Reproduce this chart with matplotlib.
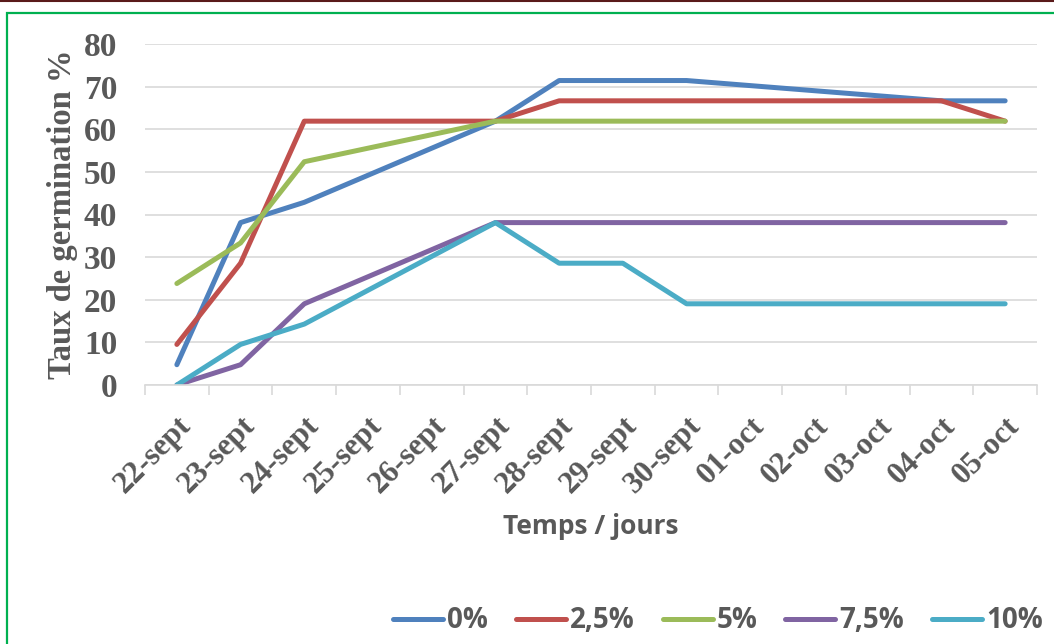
import numpy as np
import matplotlib.pyplot as plt
from matplotlib.patches import Rectangle
from matplotlib.lines import Line2D

dates = ['22-sept', '23-sept', '24-sept', '25-sept', '26-sept', '27-sept', '28-sept',
         '29-sept', '30-sept', '01-oct', '02-oct', '03-oct', '04-oct', '05-oct']
# relevés non faits -> None
s0 = [4.76, 38.10, 42.86, None, None, 61.90, 71.43, 71.43, 71.43, None, None, None, 66.67, 66.67]
s25 = [9.52, 28.57, 61.90, None, None, 61.90, 66.67, 66.67, 66.67, None, None, None, 66.67, 61.90]
s5 = [23.81, 33.33, 52.38, None, None, 61.90, 61.90, 61.90, 61.90, None, None, None, 61.90, 61.90]
s75 = [0.0, 4.76, 19.05, None, None, 38.10, 38.10, 38.10, 38.10, None, None, None, 38.10, 38.10]
s10 = [0.0, 9.52, 14.29, None, None, 38.10, 28.57, 28.57, 19.05, None, None, None, 19.05, 19.05]
labels = ['0%', '2,5%', '5%', '7,5%', '10%']
colors = ['#4F81BD', '#C0504D', '#9BBB59', '#8064A2', '#4BACC6']

grey = '#595959'
fig = plt.figure(figsize=(10.54, 6.44), dpi=100)
ax = fig.add_axes([145/1054, 1-385/644, 892/1054, 341/644])

x = np.arange(len(dates))
for vals, lab, c in zip([s0, s25, s5, s75, s10], labels, colors):
    y = np.array([np.nan if v is None else v for v in vals])
    ok = ~np.isnan(y)
    ax.plot(x[ok], y[ok], color=c, lw=3.6, solid_capstyle='round',
            solid_joinstyle='round', label=lab)

ax.set_xlim(-0.5, len(dates) - 0.5)
ax.set_ylim(0, 80)
ax.set_yticks(range(0, 81, 10))
ax.set_xticks(x)
ax.set_xticks(np.arange(-0.5, len(dates)), minor=True)
ax.set_xticklabels(dates, rotation=45, ha='right', rotation_mode='anchor',
                   family='Liberation Serif', weight='bold', fontsize=22.5, color=grey)
for t in ax.get_yticklabels():
    t.set_family('Liberation Serif')
    t.set_weight('bold')
    t.set_fontsize(24)
    t.set_color(grey)
ax.tick_params(axis='x', which='major', length=0, pad=19)
ax.tick_params(axis='x', which='minor', length=7, width=1.2, color='#D9D9D9')
ax.tick_params(axis='y', length=0, pad=20)
ax.grid(axis='y', color='#D9D9D9', lw=1.2)
ax.set_axisbelow(True)
for side in ['left', 'right', 'top']:
    ax.spines[side].set_visible(False)
ax.spines['bottom'].set_color('#D9D9D9')
ax.spines['bottom'].set_linewidth(1.2)

ax.set_ylabel('Taux de germination %', family='Liberation Serif', weight='bold',
              fontsize=23.5, color=grey, labelpad=4)
fig.text(591/1054, 1-527/644, 'Temps / jours', family='Open Sans', weight='bold',
         fontsize=19, color=grey, ha='center', va='center')

handles = [Line2D([], [], color=c, lw=3.6, solid_capstyle='round') for c in colors]
fig.legend(handles, labels, loc='center right', bbox_to_anchor=(1068/1054, 1-621/644),
           ncol=5, frameon=False, handlelength=1.8, handletextpad=0.15,
           columnspacing=1.0, prop={'family': 'Open Sans', 'weight': 'bold', 'size': 20},
           labelcolor=grey)

# cadre
fig.patches.append(Rectangle((7/1054, -0.02), 1.05, 1-13/644+0.02, transform=fig.transFigure,
                             fill=False, ec='#00B050', lw=1.6))
fig.lines.append(Line2D([0, 1], [1-1/644, 1-1/644], transform=fig.transFigure,
                        color='#5A1A1A', lw=1.5))

fig.savefig('out.png', dpi=100)
